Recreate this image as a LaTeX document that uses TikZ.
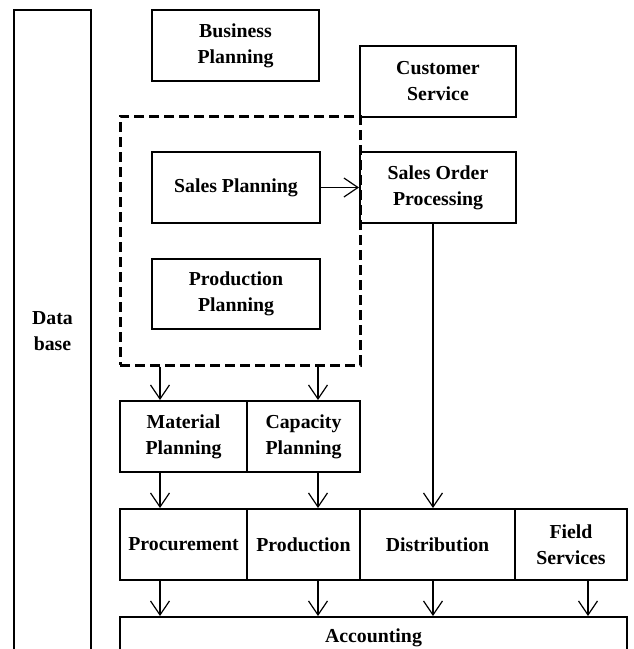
\documentclass[tikz,border=0pt]{standalone}
\usepackage{fontspec}
\setmainfont{Liberation Serif}
\usetikzlibrary{arrows.meta}
\begin{document}
\begin{tikzpicture}[x=1pt, y=-1pt,
    box/.style={draw, line width=2pt, align=center, inner sep=0pt,
        font=\fontsize{19.8}{26}\selectfont\bfseries},
    group/.style={draw, line width=3pt, dash pattern=on 10pt off 5pt, inner sep=0pt},
    arr/.style={line width=1.2pt, -{Straight Barb[length=14pt, width=19pt, line width=1.2pt]}}]
    \useasboundingbox (0,0) rectangle (633,649);

    % Database column on the left
    \node[box, minimum width=77pt, minimum height=642pt] (db) at (52.5, 331) {Data\\base};

    % Planning group (dashed)
    \node[group, minimum width=240pt, minimum height=249pt] (plan) at (240, 240.5) {};

    % Top boxes
    \node[box, minimum width=167pt, minimum height=71pt] (bp) at (235.5, 45.5) {Business\\Planning};
    \node[box, minimum width=156pt, minimum height=71pt] (cs) at (438, 81.5) {Customer\\Service};

    % Inside the planning group
    \node[box, minimum width=168pt, minimum height=71pt] (sp) at (236, 187.5) {Sales Planning};
    \node[box, minimum width=168pt, minimum height=70pt] (pp) at (236, 294) {Production\\Planning};
    \node[box, minimum width=156pt, minimum height=71pt] (sop) at (438, 187.5) {Sales Order\\Processing};

    % Material and capacity planning
    \node[box, minimum width=127pt, minimum height=71pt] (mp) at (183.5, 436.5) {Material\\Planning};
    \node[box, minimum width=113pt, minimum height=71pt] (cp) at (303.5, 436.5) {Capacity\\Planning};

    % Execution row
    \node[box, minimum width=127pt, minimum height=71pt] (pc) at (183.5, 544.5) {Procurement};
    \node[box, minimum width=113pt, minimum height=71pt] (pr) at (303.5, 544.5) {Production};
    \node[box, minimum width=155pt, minimum height=71pt] (di) at (437.5, 544.5) {Distribution};
    \node[box, minimum width=112pt, minimum height=71pt] (fs) at (571, 544.5) {Field\\Services};

    % Accounting
    \node[box, minimum width=507pt, minimum height=42pt] (ac) at (373.5, 638) {Accounting};

    % Arrows
    \draw[arr] (sp.east) -- (sop.west);
    \draw[arr] ([xshift=41pt]mp.north west |- plan.south) -- ([xshift=41pt]mp.north west);
    \draw[arr] ([xshift=14.5pt]cp.north |- plan.south) -- ([xshift=14.5pt]cp.north);
    \draw[arr] ([xshift=41pt]mp.south west) -- ([xshift=41pt]pc.north west);
    \draw[arr] ([xshift=14.5pt]cp.south) -- ([xshift=14.5pt]pr.north);
    \draw[arr] ([xshift=-5pt]sop.south) -- ([xshift=-4.5pt]di.north);
    \draw[arr] ([xshift=41pt]pc.south west) -- ([xshift=41pt]pc.south west |- ac.north);
    \draw[arr] ([xshift=14.5pt]pr.south) -- ([xshift=14.5pt]pr.south |- ac.north);
    \draw[arr] ([xshift=-4.5pt]di.south) -- ([xshift=-4.5pt]di.south |- ac.north);
    \draw[arr] ([xshift=17pt]fs.south) -- ([xshift=17pt]fs.south |- ac.north);
\end{tikzpicture}
\end{document}
